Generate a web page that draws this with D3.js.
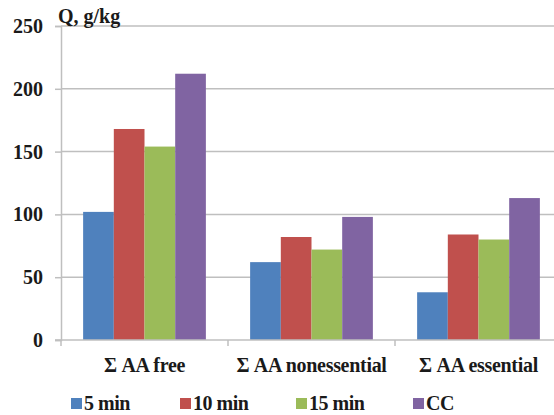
<!DOCTYPE html>
<html>
<head>
<meta charset="utf-8">
<script src="https://cdn.jsdelivr.net/npm/d3@7"></script>
<style>
  body { margin: 0; background: #fff; }
  svg { display: block; }
  svg text { font-family: "Liberation Serif", "DejaVu Serif", "Times New Roman", serif; font-weight: bold; }
</style>
</head>
<body>
<div class="chart"></div>
<script>
// data
let categories = ['Σ AA free', 'Σ AA nonessential', 'Σ AA essential'];
let series = ['5 min', '10 min', '15 min', 'CC'];
let colors = ['#4f81bd', '#c0504d', '#9bbb59', '#8064a2'];
let v5 = [102, 62, 38];
let v10 = [168, 82, 84];
let v15 = [154, 72, 80];
let vCC = [212, 98, 113];
let yTicks = [0, 50, 100, 150, 200, 250];

let values = [v5, v10, v15, vCC];
let rows = categories.map((c, i) => ({ cat: c, vals: series.map((s, j) => ({ s: s, v: values[j][i], c: colors[j] })) }));

let svg = d3.select('.chart')
  .append('svg')
  .attr('width', 554)
  .attr('height', 415);

let plotL = 61, plotR = 562, plotT = 26, plotB = 340;

let x0 = d3.scaleBand()
  .domain(categories)
  .range([plotL, plotR])
  .paddingInner(0.265)
  .paddingOuter(0.1325);

let x1 = d3.scaleBand()
  .domain(series)
  .range([0, x0.bandwidth()]);

let y = d3.scaleLinear()
  .domain([0, 250])
  .range([plotB, plotT]);

// grid
svg.append('g')
  .selectAll('line')
  .data(yTicks.slice(1))
  .join('line')
  .attr('x1', plotL)
  .attr('x2', 554)
  .attr('y1', d => y(d))
  .attr('y2', d => y(d))
  .attr('stroke', '#bfbfbf')
  .attr('stroke-width', 1.5);

// bars
svg.append('g')
  .selectAll('g')
  .data(rows)
  .join('g')
  .attr('transform', d => `translate(${x0(d.cat)},0)`)
  .selectAll('rect')
  .data(d => d.vals)
  .join('rect')
  .attr('x', d => x1(d.s))
  .attr('width', x1.bandwidth())
  .attr('y', d => y(d.v))
  .attr('height', d => y(0) - y(d.v))
  .attr('fill', d => d.c);

// y axis
let yAxis = svg.append('g')
  .attr('transform', `translate(${plotL},0)`)
  .call(d3.axisLeft(y).tickValues(yTicks).tickSize(6).tickPadding(12));
yAxis.select('.domain').attr('stroke', '#bfbfbf').attr('stroke-width', 1.5);
yAxis.selectAll('.tick line').attr('stroke', '#bfbfbf').attr('stroke-width', 1.5);
yAxis.selectAll('.tick text')
  .attr('font-size', 20)
  .attr('fill', '#1a1a1a');

// x axis
let xBoundaries = [plotL].concat(categories.slice(1).map(c => x0(c) - x0.step() * x0.paddingInner() / 2));
let xAxis = svg.append('g');
xAxis.append('line')
  .attr('x1', plotL - 6)
  .attr('x2', 554)
  .attr('y1', plotB)
  .attr('y2', plotB)
  .attr('stroke', '#bfbfbf')
  .attr('stroke-width', 1.5);
xAxis.selectAll('.xt')
  .data(xBoundaries)
  .join('line')
  .attr('class', 'xt')
  .attr('x1', d => d)
  .attr('x2', d => d)
  .attr('y1', plotB)
  .attr('y2', plotB + 6)
  .attr('stroke', '#bfbfbf')
  .attr('stroke-width', 1.5);
xAxis.selectAll('text')
  .data(categories)
  .join('text')
  .attr('x', d => x0(d) + x0.bandwidth() / 2)
  .attr('y', 372)
  .attr('text-anchor', 'middle')
  .attr('font-size', 20)
  .attr('letter-spacing', -0.3)
  .attr('fill', '#1a1a1a')
  .text(d => d);

// axis title
svg.append('text')
  .attr('x', 58)
  .attr('y', 23)
  .attr('font-size', 20)
  .attr('fill', '#1a1a1a')
  .text('Q, g/kg');

// legend
let legendX = [71, 180, 296, 413];
let legend = svg.append('g')
  .selectAll('g')
  .data(series)
  .join('g')
  .attr('transform', (d, i) => `translate(${legendX[i]},398)`);
legend.append('rect')
  .attr('width', 11)
  .attr('height', 11)
  .attr('fill', (d, i) => colors[i]);
legend.append('text')
  .attr('x', 13)
  .attr('y', 12)
  .attr('font-size', 20)
  .attr('letter-spacing', -0.5)
  .attr('fill', '#1a1a1a')
  .text(d => d);
</script>
</body>
</html>
